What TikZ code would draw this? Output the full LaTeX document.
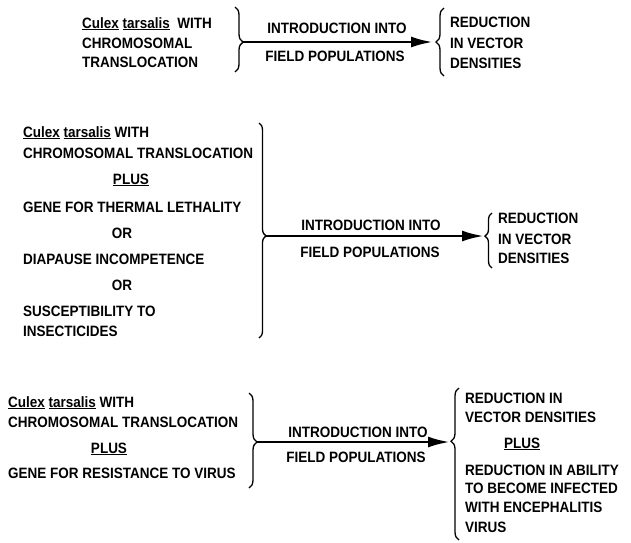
\documentclass[tikz,border=0pt]{standalone}
\usepackage{fontspec}
\setmainfont{Liberation Sans}[FakeStretch=0.9]
\usetikzlibrary{decorations.pathreplacing,arrows.meta}
\begin{document}
\begin{tikzpicture}[x=1pt,y=-1pt,
  txt/.style={inner sep=0pt,font=\fontsize{15}{17}\selectfont\bfseries},
  lft/.style={txt,anchor=base west},
  mid/.style={txt,anchor=base},
  bracestyle/.style 2 args={decorate,decoration={brace,amplitude=#1,aspect=#2},line width=1.3pt},
  flow/.style={line width=2.8pt,-{Latex[length=22pt,width=11pt]}}]
\useasboundingbox (0,0) rectangle (631,542);
% ---------- panel 1 ----------
\node[lft] (a1) at (82,28) {\underline{Culex} \underline{tarsalis}\ \ WITH};
\node[lft] (a2) at (82,48) {CHROMOSOMAL};
\node[lft] (a3) at (82,67) {TRANSLOCATION};
\draw[bracestyle={8pt}{0.54}] (235,7) -- (235,72);
\coordinate (p1s) at (243,42);
\coordinate (p1e) at (433,42);
\draw[bracestyle={8pt}{0.5}] (444,76) -- (444,8);
\draw[flow] (p1s) -- (p1e);
\node[mid] (i1) at (337,33) {INTRODUCTION INTO};
\node[mid] (f1) at (335,61) {FIELD POPULATIONS};
\node[lft] (r1a) at (450,27) {REDUCTION};
\node[lft] (r1b) at (450,48) {IN VECTOR};
\node[lft] (r1c) at (450,68) {DENSITIES};
% ---------- panel 2 ----------
\node[lft] (b1) at (23,137) {\underline{Culex} \underline{tarsalis} WITH};
\node[lft] (b2) at (23,158) {CHROMOSOMAL TRANSLOCATION};
\node[mid] (b3) at (131,184) {\underline{PLUS}};
\node[lft] (b4) at (23,212) {GENE FOR THERMAL LETHALITY};
\node[mid] (b5) at (122,238) {OR};
\node[lft] (b6) at (23,264) {DIAPAUSE INCOMPETENCE};
\node[mid] (b7) at (122,290) {OR};
\node[lft] (b8) at (23,316) {SUSCEPTIBILITY TO};
\node[lft] (b9) at (23,336) {INSECTICIDES};
\draw[bracestyle={7pt}{0.525}] (259,123) -- (259,338);
\coordinate (p2s) at (266,236);
\coordinate (p2e) at (484,236);
\draw[bracestyle={7pt}{0.58}] (492,268) -- (492,213);
\draw[flow] (p2s) -- (p2e);
\node[mid] (i2) at (371,230) {INTRODUCTION INTO};
\node[mid] (f2) at (370,257) {FIELD POPULATIONS};
\node[lft] (r2a) at (498,223) {REDUCTION};
\node[lft] (r2b) at (498,244) {IN VECTOR};
\node[lft] (r2c) at (498,263) {DENSITIES};
% ---------- panel 3 ----------
\node[lft] (c1) at (8,407) {\underline{Culex} \underline{tarsalis} WITH};
\node[lft] (c2) at (8,427) {CHROMOSOMAL TRANSLOCATION};
\node[mid] (c3) at (109,453) {\underline{PLUS}};
\node[lft] (c4) at (8,478) {GENE FOR RESISTANCE TO VIRUS};
\draw[bracestyle={8pt}{0.516}] (249,393) -- (249,488);
\coordinate (p3s) at (257,442);
\coordinate (p3e) at (450,442);
\draw[bracestyle={8pt}{0.65}] (459,540) -- (459,388);
\draw[flow] (p3s) -- (p3e);
\node[mid] (i3) at (358,437) {INTRODUCTION INTO};
\node[mid] (f3) at (356,462) {FIELD POPULATIONS};
\node[lft] (r3a) at (465,403) {REDUCTION IN};
\node[lft] (r3b) at (465,422) {VECTOR DENSITIES};
\node[mid] (r3c) at (522,448) {\underline{PLUS}};
\node[lft] (r3d) at (465,475) {REDUCTION IN ABILITY};
\node[lft] (r3e) at (465,493) {TO BECOME INFECTED};
\node[lft] (r3f) at (465,512) {WITH ENCEPHALITIS};
\node[lft] (r3g) at (465,532) {VIRUS};
\end{tikzpicture}
\end{document}
